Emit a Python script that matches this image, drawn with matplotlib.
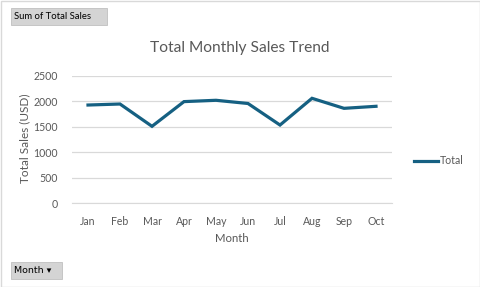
import matplotlib.pyplot as plt
from matplotlib.patches import Rectangle

# data
months = ["Jan", "Feb", "Mar", "Apr", "May", "Jun", "Jul", "Aug", "Sep", "Oct"]
total_sales = [1930, 1950, 1512, 1997, 2023, 1960, 1537, 2062, 1865, 1905]
y_ticks = [0, 500, 1000, 1500, 2000, 2500]

plt.rcParams['font.family'] = ['Lato', 'DejaVu Sans']
text_gray = "#595959"
line_color = "#156082"

fig = plt.figure(figsize=(4.81, 2.87), dpi=100)
W, H = 481, 287

# outer chart border
fig.patches.append(Rectangle((0.5 / W, 0.5 / H), 1 - 1.5 / W, 1 - 1.5 / H,
                             transform=fig.transFigure, fill=False,
                             edgecolor="#d9d9d9", linewidth=1))

ax = fig.add_axes([72 / W, 1 - 203.3 / H, 320 / W, 127.3 / H])
x = range(len(months))
ax.plot(x, total_sales, color=line_color, linewidth=2.3, label="Total",
        solid_joinstyle="miter")
ax.set_xlim(-0.5, len(months) - 0.5)
ax.set_ylim(0, 2500)
ax.set_yticks(y_ticks)
ax.set_xticks(list(x))
ax.set_xticklabels(months)
ax.grid(axis="y", color="#d9d9d9", linewidth=0.9)
ax.set_axisbelow(True)
for s in ["top", "right", "left"]:
    ax.spines[s].set_visible(False)
ax.spines["bottom"].set_color("#d9d9d9")
ax.tick_params(length=0, colors=text_gray, labelsize=7.6)
ax.tick_params(axis="x", pad=9)
ax.tick_params(axis="y", pad=10)

fig.text(240 / W, 1 - 48 / H, "Total Monthly Sales Trend", ha="center",
         va="center", fontsize=11.2, color=text_gray)
fig.text(25 / W, 1 - 138 / H, "Total Sales (USD)", rotation=90, ha="center",
         va="center", fontsize=8.5, color=text_gray)
fig.text(232 / W, 1 - 238 / H, "Month", ha="center", va="center",
         fontsize=8.2, color=text_gray)

# legend
fig.legend(loc="center left", bbox_to_anchor=(404 / W, 1 - 161 / H),
           frameon=False, fontsize=7.6, labelcolor=text_gray,
           handlelength=2.3, handletextpad=0.15)

# field buttons
for (bx, by, bw, bh, label) in [(11, 8, 96, 17, "Sum of Total Sales"),
                                (11, 262, 51, 17, "Month \u25be")]:
    fig.patches.append(Rectangle((bx / W, 1 - (by + bh) / H), bw / W, bh / H,
                                 transform=fig.transFigure,
                                 facecolor="#d4d4d4", edgecolor="#c0c0c0",
                                 linewidth=0.6))
    fig.text((bx + 3) / W, 1 - (by + bh / 2) / H, label, ha="left",
             va="center", fontsize=6.8, color="black",
             family=["DejaVu Sans"] if "\u25be" in label else None)

fig.savefig("out.png", dpi=100)
